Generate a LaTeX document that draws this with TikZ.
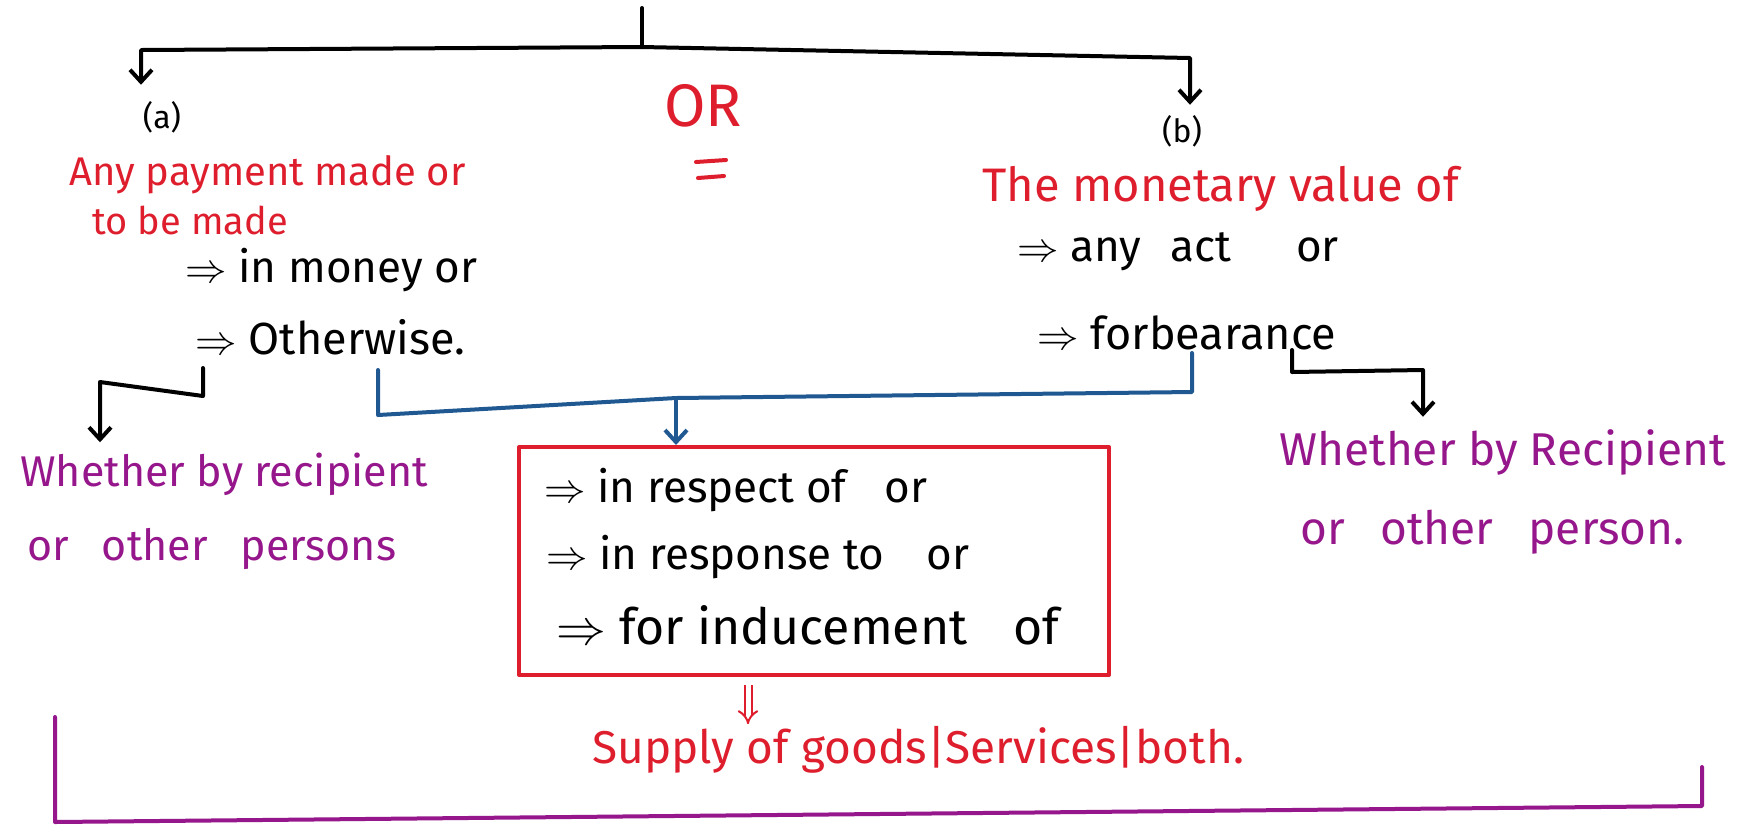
\documentclass[tikz,border=0pt]{standalone}
\usepackage{fontspec}
\setmainfont{Fira Sans}
\usetikzlibrary{arrows.meta}
\definecolor{hred}{RGB}{222,30,45}
\definecolor{hpur}{RGB}{150,22,140}
\definecolor{hblu}{RGB}{32,88,145}
\newcommand{\fsz}[1]{\fontsize{#1}{#1}\selectfont}
\newcommand{\gp}[1]{\hspace{#1em}}
\tikzset{
  txt/.style={inner sep=0pt, anchor=west, font=\fsz{20}},
  redtxt/.style={txt, text=hred},
  purtxt/.style={txt, text=hpur},
  ln/.style={line width=2pt, line cap=round, line join=round},
  arr/.style={ln, -{Straight Barb[length=6pt,width=11pt]}},
}
\begin{document}
\begin{tikzpicture}[x=0.5pt,y=-0.5pt]
\useasboundingbox[fill=white] (0,0) rectangle (1753,827);

% top tree
\coordinate (top) at (642,8);
\coordinate (j) at (642,47);
\coordinate (lc) at (141,50);
\coordinate (rc) at (1190,58);
\node[font=\fsz{16}, inner sep=0pt] (a) at (162,117) {(a)};
\node[font=\fsz{16}, inner sep=0pt] (b) at (1182,131) {(b)};
\draw[ln] (top) -- (j);
\draw[arr, shorten >=8pt] (j) -- (lc) -- (lc |- a.north);
\draw[arr, shorten >=5pt] (j) -- (rc) -- (rc |- b.north);

% OR with its double underline
\node[text=hred, font=\fsz{30}, inner sep=0pt] (or) at (703,106) {OR};
\coordinate (eq1a) at (696,162);
\coordinate (eq1b) at (726,160);
\coordinate (eq2a) at (698,178);
\coordinate (eq2b) at (724,176);
\draw[ln, hred] (eq1a) -- (eq1b);
\draw[ln, hred] (eq2a) -- (eq2b);

% (a) branch
\node[redtxt] (ap1) at (69,175) {Any payment made or};
\node[redtxt, font=\fsz{19}] (ap2) at (92,220) {to be made};
\node[txt, font=\fsz{22}] (am) at (185,270) {$\Rightarrow$ in money or};
\node[txt, font=\fsz{22.5}] (ao) at (195,337) {$\Rightarrow$ Otherwise.};

% (b) branch
\node[redtxt, font=\fsz{23.5}] (bm) at (982,189) {The monetary value of};
\node[txt, font=\fsz{22}] (ba) at (1017,252) {$\Rightarrow$ any\gp{0.4} act\gp{1.2} or};
\node[txt, font=\fsz{22.5}] (bf) at (1037,333) {$\Rightarrow$ forbearance};

% purple side notes
\node[purtxt, font=\fsz{21.5}] (wl1) at (20,474) {Whether by recipient};
\node[purtxt, font=\fsz{21.5}] (wl2) at (27,549) {or\gp{0.5} other\gp{0.5} persons};
\node[purtxt, font=\fsz{23}] (wr1) at (1279,452) {Whether by Recipient};
\node[purtxt, font=\fsz{23}] (wr2) at (1300,532) {or\gp{0.5} other\gp{0.5} person.};

% black side connectors
\coordinate (l1) at (203,368);
\coordinate (l2) at (203,396);
\coordinate (l3) at (100,382);
\draw[arr, shorten >=5pt] (l1) -- (l2) -- (l3) -- (l3 |- wl1.north);
\coordinate (r1) at (1292,350);
\coordinate (r2) at (1292,372);
\coordinate (r3) at (1423,370);
\draw[arr, shorten >=6pt] (r1) -- (r2) -- (r3) -- (r3 |- wr1.north);

% red box
\node[draw=hred, ln, minimum width=295pt, minimum height=114pt, inner sep=0pt] (box) at (814,561) {};
\node[txt, font=\fsz{22}] (x1) at (544,490) {$\Rightarrow$ in respect of\gp{0.6} or};
\node[txt, font=\fsz{22}] (x2) at (546,557) {$\Rightarrow$ in response to\gp{0.7} or};
\node[txt, font=\fsz{25}] (x3) at (556,625) {$\Rightarrow$ for inducement\gp{0.65} of};

% blue merge
\coordinate (bl1) at (378,370);
\coordinate (bl2) at (378,415);
\coordinate (br1) at (1192,353);
\coordinate (br2) at (1192,392);
\coordinate (bmg) at (676,398);
\draw[ln, hblu] (bl1) -- (bl2) -- (bmg);
\draw[ln, hblu] (br1) -- (br2) -- (bmg);
\draw[arr, hblu] (bmg) -- (box.north -| bmg);

% supply
\node[redtxt, font=\fsz{23}] (sup) at (592,750) {Supply of goods|Services|both.};
\coordinate (dnx) at (748,0);
\draw[hred, line width=1pt, double distance=2.5pt, -{Implies}, shorten >=1pt, shorten <=4pt] (box.south -| dnx) -- (sup.north -| dnx);

% purple bracket
\coordinate (pb1) at (55,717);
\coordinate (pb2) at (55,822);
\coordinate (pb3) at (1702,806);
\coordinate (pb4) at (1702,767);
\draw[ln, hpur] (pb1) -- (pb2) -- (pb3) -- (pb4);
\end{tikzpicture}
\end{document}
